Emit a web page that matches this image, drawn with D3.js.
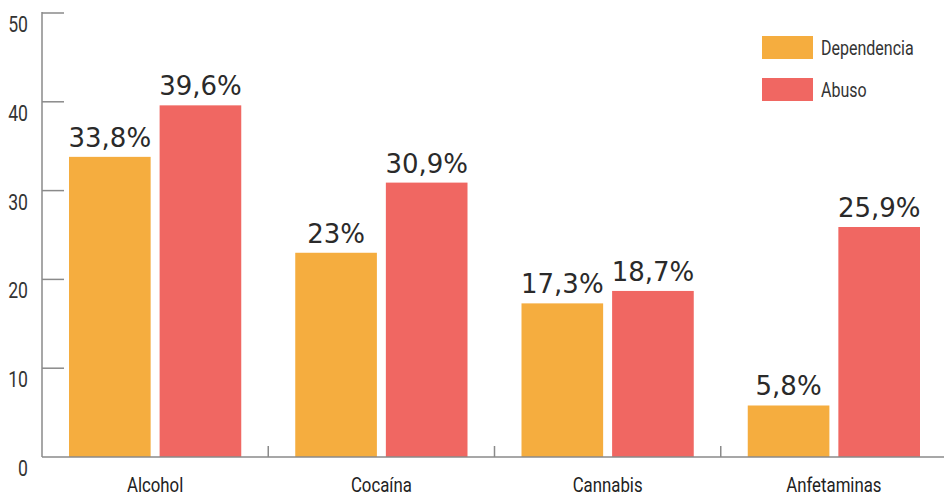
<!DOCTYPE html>
<html>
<head>
<meta charset="utf-8">
<script src="https://cdn.jsdelivr.net/npm/d3@7"></script>
<style>
  body { margin: 0; background: #fff; }
  .cond { font-family: "Roboto", "Liberation Sans", sans-serif; }
</style>
</head>
<body>
<div id="plotdiv"></div>
<script>
// data
const categories = ["Alcohol", "Cocaína", "Cannabis", "Anfetaminas"];
const series = ["Dependencia", "Abuso"];
const dependencia = [33.8, 23, 17.3, 5.8];
const abuso = [39.6, 30.9, 18.7, 25.9];
const labelsDep = ["33,8%", "23%", "17,3%", "5,8%"];
const labelsAbu = ["39,6%", "30,9%", "18,7%", "25,9%"];
const yTicks = [0, 10, 20, 30, 40, 50];
const colors = ["#f5ad3f", "#f06762"];

const width = 944, height = 497;
const squeeze = 0.8; // condensed look for axis text

const svg = d3.select("#plotdiv")
  .append("svg")
  .attr("width", width)
  .attr("height", height);

// scales
const y = d3.scaleLinear().domain([0, 50]).range([457, 13]);

const x = d3.scaleBand()
  .domain(categories)
  .range([42, 947])
  .padding(0);

const xs = d3.scaleBand()
  .domain(series)
  .range([27, x.bandwidth() - 27])
  .paddingInner(0.099)
  .paddingOuter(0);

function condText(sel, fx, fy) {
  return sel.append("text")
    .attr("class", "cond")
    .attr("transform", (d, i) => "translate(" + fx(d, i) + "," + fy(d, i) + ") scale(" + squeeze + ",1)");
}

// y axis
const axisColor = "#8a8a8a";
svg.append("line")
  .attr("x1", 42).attr("x2", 42)
  .attr("y1", y(50) - 1).attr("y2", y(0))
  .attr("stroke", axisColor).attr("stroke-width", 1.5);

svg.selectAll(".ytick")
  .data(yTicks.filter(d => d > 0))
  .enter()
  .append("line")
  .attr("x1", 42).attr("x2", 64)
  .attr("y1", d => y(d)).attr("y2", d => y(d))
  .attr("stroke", axisColor).attr("stroke-width", 1.5);

condText(svg.selectAll(".ylab").data(yTicks).enter(), d => 28, d => y(d) + 19)
  .attr("text-anchor", "end")
  .attr("font-size", 22)
  .attr("fill", "#333")
  .text(d => d);

// bars
const rows = categories.map((c, i) => [
  {cat: c, s: series[0], v: dependencia[i], lab: labelsDep[i], col: colors[0]},
  {cat: c, s: series[1], v: abuso[i], lab: labelsAbu[i], col: colors[1]}
]).flat();

svg.selectAll(".bar")
  .data(rows)
  .enter()
  .append("rect")
  .attr("x", d => x(d.cat) + xs(d.s))
  .attr("y", d => y(d.v))
  .attr("width", xs.bandwidth())
  .attr("height", d => y(0) - y(d.v))
  .attr("fill", d => d.col);

svg.selectAll(".val")
  .data(rows)
  .enter()
  .append("text")
  .attr("x", d => x(d.cat) + xs(d.s) + xs.bandwidth() / 2)
  .attr("y", d => y(d.v) - 10)
  .attr("text-anchor", "middle")
  .attr("font-family", "'DejaVu Sans', sans-serif")
  .attr("font-size", 26)
  .attr("fill", "#2a2a2a")
  .text(d => d.lab);

// x axis
svg.append("line")
  .attr("x1", 42).attr("x2", width)
  .attr("y1", y(0)).attr("y2", y(0))
  .attr("stroke", axisColor).attr("stroke-width", 1.5);

svg.selectAll(".xtick")
  .data(categories.slice(1))
  .enter()
  .append("line")
  .attr("x1", d => x(d)).attr("x2", d => x(d))
  .attr("y1", y(0) - 11).attr("y2", y(0))
  .attr("stroke", axisColor).attr("stroke-width", 1.5);

condText(svg.selectAll(".xlab").data(categories).enter(), d => x(d) + x.bandwidth() / 2, d => 492)
  .attr("text-anchor", "middle")
  .attr("font-size", 21)
  .attr("fill", "#222")
  .text(d => d);

// legend
const legend = svg.selectAll(".leg")
  .data(series)
  .enter()
  .append("g")
  .attr("transform", (d, i) => "translate(762," + (36 + i * 42) + ")");

legend.append("rect")
  .attr("width", 51).attr("height", 23)
  .attr("fill", (d, i) => colors[i]);

legend.append("text")
  .attr("class", "cond")
  .attr("transform", "translate(59,19) scale(" + squeeze + ",1)")
  .attr("font-size", 20)
  .attr("fill", "#333")
  .text(d => d);
</script>
</body>
</html>
